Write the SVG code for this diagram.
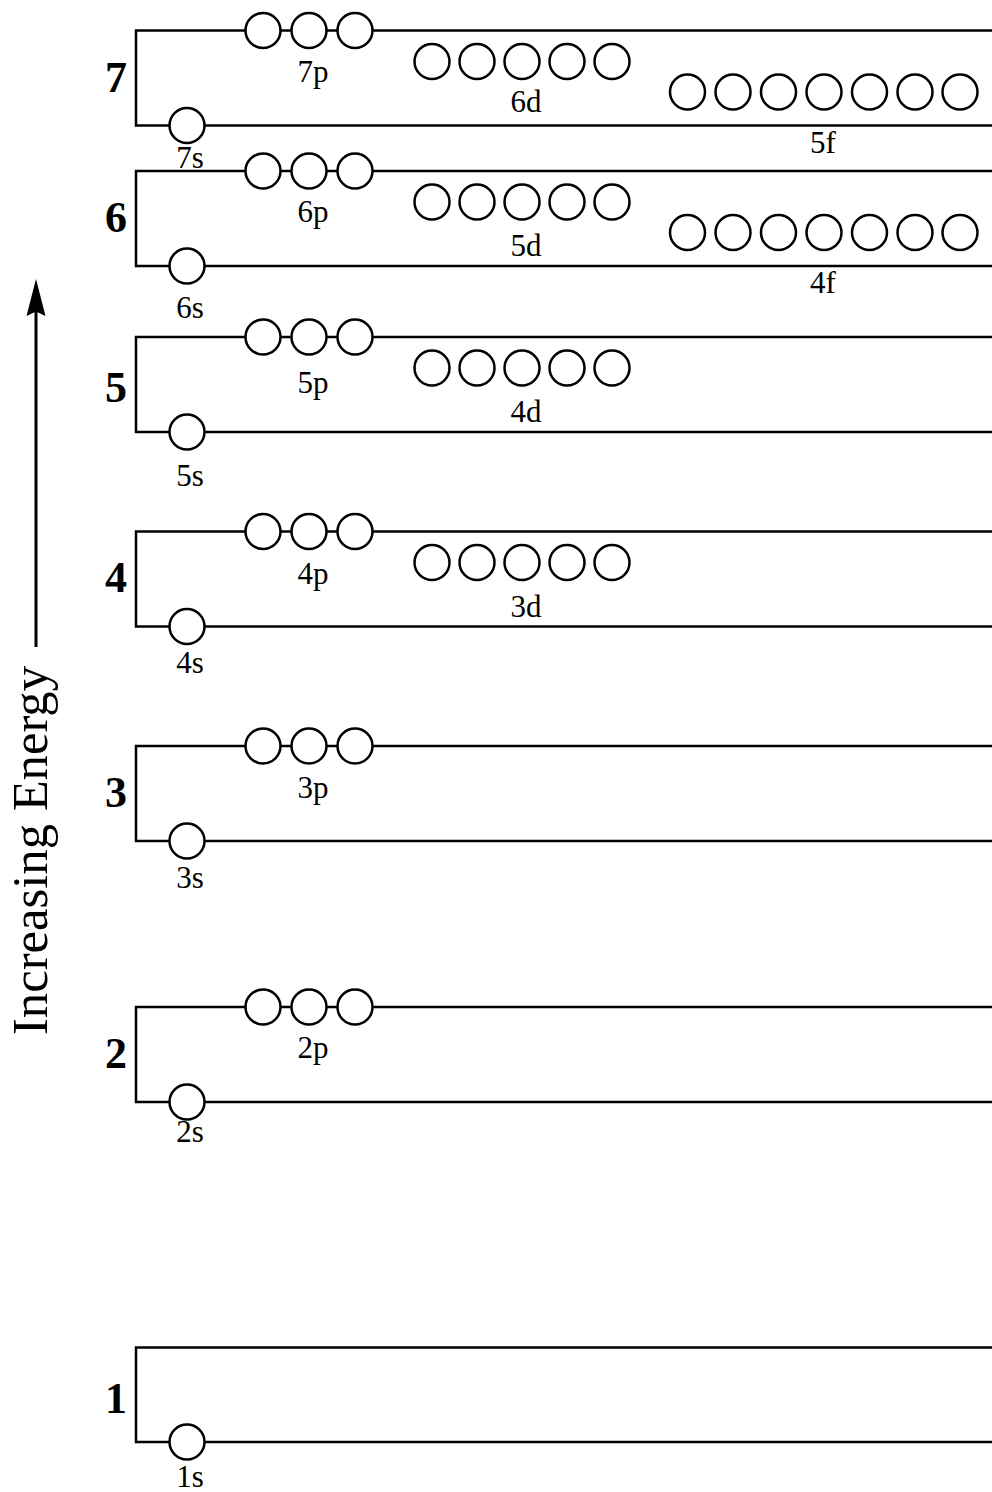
<svg xmlns="http://www.w3.org/2000/svg" width="992" height="1492" viewBox="0 0 992 1492">
<style>
.sh{fill:none;stroke:#000;stroke-width:2.5}
.o{fill:#fff;stroke:#000;stroke-width:2.5}
.lb{font-family:"Liberation Serif",serif;font-size:31px;text-anchor:middle;fill:#000}
.n{font-family:"Liberation Serif",serif;font-size:44px;font-weight:bold;text-anchor:middle;fill:#000}
.ax{font-family:"Liberation Serif",serif;font-size:50px;text-anchor:middle;fill:#000}
</style>
<defs>
<g id="p3"><circle class="o" cx="263" cy="0" r="17.5"/><circle class="o" cx="309" cy="0" r="17.5"/><circle class="o" cx="355" cy="0" r="17.5"/></g>
<g id="d5"><circle class="o" cx="432" cy="0" r="17.5"/><circle class="o" cx="477" cy="0" r="17.5"/><circle class="o" cx="522" cy="0" r="17.5"/><circle class="o" cx="567" cy="0" r="17.5"/><circle class="o" cx="612" cy="0" r="17.5"/></g>
<g id="f7"><circle class="o" cx="687.5" cy="0" r="17.5"/><circle class="o" cx="733" cy="0" r="17.5"/><circle class="o" cx="778.5" cy="0" r="17.5"/><circle class="o" cx="824" cy="0" r="17.5"/><circle class="o" cx="869.5" cy="0" r="17.5"/><circle class="o" cx="915" cy="0" r="17.5"/><circle class="o" cx="960" cy="0" r="17.5"/></g>
</defs>
<rect width="992" height="1492" fill="#fff"/>

<g id="connectors">
<line x1="36" y1="647" x2="36" y2="306" stroke="#000" stroke-width="3"/>
<path d="M36,279 L45.5,316 L36,311.5 L26.5,316 Z" fill="#000"/>
<text class="ax" transform="translate(47,850.5) rotate(-90)" x="0" y="0" textLength="369" lengthAdjust="spacingAndGlyphs">Increasing Energy</text>
</g>

<g id="shell-7">
<path class="sh" d="M992,30.5 H136 V125.5 H992"/>
<text class="n" x="116" y="92">7</text>
<circle class="o" cx="187" cy="125.5" r="17.5"/>
<use href="#p3" y="30.5"/>
<use href="#d5" y="61.5"/>
<use href="#f7" y="92"/>
<text class="lb" x="313" y="82">7p</text>
<text class="lb" x="190" y="168">7s</text>
<text class="lb" x="526" y="112">6d</text>
<text class="lb" x="823" y="153">5f</text>
</g>

<g id="shell-6">
<path class="sh" d="M992,171 H136 V266 H992"/>
<text class="n" x="116" y="232">6</text>
<circle class="o" cx="187" cy="266" r="17.5"/>
<use href="#p3" y="171"/>
<use href="#d5" y="202"/>
<use href="#f7" y="232.5"/>
<text class="lb" x="313" y="222">6p</text>
<text class="lb" x="190" y="318">6s</text>
<text class="lb" x="526" y="256">5d</text>
<text class="lb" x="823" y="293">4f</text>
</g>

<g id="shell-5">
<path class="sh" d="M992,337 H136 V432 H992"/>
<text class="n" x="116" y="402">5</text>
<circle class="o" cx="187" cy="432" r="17.5"/>
<use href="#p3" y="337"/>
<use href="#d5" y="368"/>
<text class="lb" x="313" y="393">5p</text>
<text class="lb" x="190" y="486">5s</text>
<text class="lb" x="526" y="422">4d</text>
</g>

<g id="shell-4">
<path class="sh" d="M992,531.5 H136 V626.5 H992"/>
<text class="n" x="116" y="592">4</text>
<circle class="o" cx="187" cy="626.5" r="17.5"/>
<use href="#p3" y="531.5"/>
<use href="#d5" y="562.5"/>
<text class="lb" x="313" y="584">4p</text>
<text class="lb" x="190" y="673">4s</text>
<text class="lb" x="526" y="617">3d</text>
</g>

<g id="shell-3">
<path class="sh" d="M992,746 H136 V841 H992"/>
<text class="n" x="116" y="807">3</text>
<circle class="o" cx="187" cy="841" r="17.5"/>
<use href="#p3" y="746"/>
<text class="lb" x="313" y="798">3p</text>
<text class="lb" x="190" y="888">3s</text>
</g>

<g id="shell-2">
<path class="sh" d="M992,1007 H136 V1102 H992"/>
<text class="n" x="116" y="1068">2</text>
<circle class="o" cx="187" cy="1102" r="17.5"/>
<use href="#p3" y="1007"/>
<text class="lb" x="313" y="1058">2p</text>
<text class="lb" x="190" y="1142">2s</text>
</g>

<g id="shell-1">
<path class="sh" d="M992,1347.5 H136 V1442 H992"/>
<text class="n" x="116" y="1413">1</text>
<circle class="o" cx="187" cy="1442" r="17.5"/>
<text class="lb" x="190" y="1487">1s</text>
</g>
</svg>
